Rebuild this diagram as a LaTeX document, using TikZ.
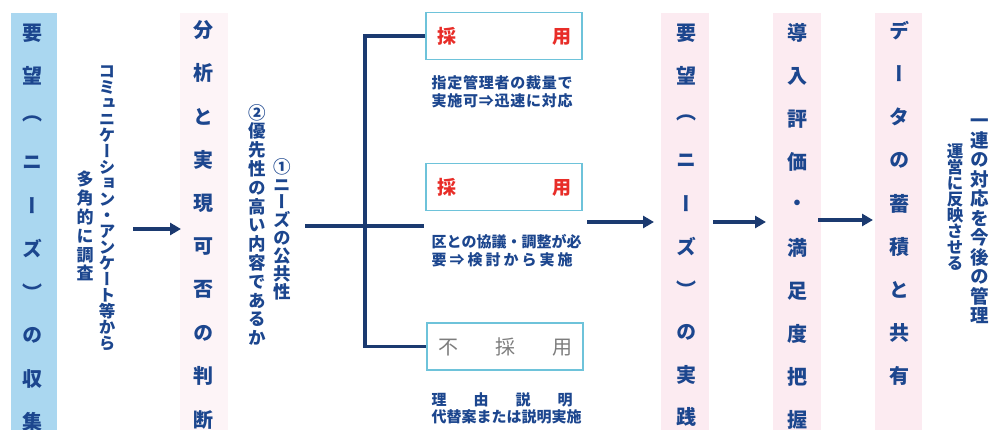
\documentclass[tikz,border=0pt]{standalone}
\usepackage{fontspec}
\usetikzlibrary{arrows.meta}
\newfontfamily\cjkv{Noto Sans CJK JP}[RawFeature=+vert]
\newfontfamily\cjkh{Noto Sans CJK JP}
\definecolor{navy}{RGB}{27,58,112}
\definecolor{txtblue}{RGB}{28,70,142}
\definecolor{skyblue}{RGB}{170,215,240}
\definecolor{pinkbg}{RGB}{252,235,241}
\definecolor{pinkfaint}{RGB}{253,244,247}
\definecolor{boxline}{RGB}{110,195,218}
\definecolor{redtxt}{RGB}{232,45,40}
\definecolor{graytxt}{RGB}{125,125,125}

\ExplSyntaxOn
\NewDocumentCommand\vstack{mm}{
  \vbox{\baselineskip=#1\lineskiplimit=-\maxdimen\lineskip=0pt
    \tl_map_inline:nn{#2}{\hbox_to_wd:nn{1em}{\hss ##1\hss}}}}
\NewDocumentCommand\spread{mm}{
  \hbox_to_wd:nn{#1}{\tl_map_inline:nn{#2}{##1\hfil}\unskip}}
\ExplSyntaxOff

\tikzset{
  bigc/.style={inner sep=0pt, text=txtblue, font=\cjkv\bfseries\fontsize{20}{20}\selectfont},
  vtxt/.style={inner sep=0pt, anchor=north, text=txtblue, font=\cjkv\bfseries},
  desc/.style={inner sep=0pt, text=txtblue, font=\cjkh\bfseries\fontsize{15}{15}\selectfont},
  optbox/.style={draw=boxline, line width=1.2pt, fill=white, minimum width=156pt, minimum height=47pt, inner sep=0pt},
  link/.style={draw=navy, line width=3.3pt, line join=miter},
  arr/.style={draw=navy, line width=3.3pt, -{Triangle[length=11pt,width=12pt]}},
}

\begin{document}
\begin{tikzpicture}[x=1pt,y=-1pt]
\useasboundingbox (0,0) rectangle (994,430);
% background strips
\fill[skyblue] (11,13) rectangle (57,430);
\fill[pinkfaint] (180,13) rectangle (228,430);
\fill[pinkbg] (661,13) rectangle (709,430);
\fill[pinkbg] (773,13) rectangle (821,430);
\fill[pinkbg] (875,13) rectangle (922,430);

% column 1
\foreach \c [count=\i from 0] in {要,望,（,ニ,ー,ズ,）,の,収,集}
  \node[bigc] (ca\i) at (33,{33+43.2*\i}) {\c};
% column 2
\foreach \c [count=\i from 0] in {分,析,と,実,現,可,否,の,判,断}
  \node[bigc] (cb\i) at (203,{30+43.3*\i}) {\c};
% column 3
\foreach \c [count=\i from 0] in {要,望,（,ニ,ー,ズ,）,の,実,践}
  \node[bigc] (cc\i) at (686,{33+42.7*\i}) {\c};
% column 4
\foreach \c [count=\i from 0] in {導,入,評,価,・,満,足,度,把,握}
  \node[bigc] (cd\i) at (797,{33+43*\i}) {\c};
% column 5
\foreach \c [count=\i from 0] in {デ,ー,タ,の,蓄,積,と,共,有}
  \node[bigc] (ce\i) at (899,{31+43.1*\i}) {\c};

% vertical notes
\node[vtxt] (nA) at (107,66) {\fontsize{16.5}{16.5}\selectfont\vstack{16pt}{コミュニケーション・アンケート等から}};
\node[vtxt] (nB) at (85,171) {\fontsize{17}{17}\selectfont\vstack{18.8pt}{多角的に調査}};
\node[vtxt] (nC) at (282,158) {\fontsize{17.5}{17.5}\selectfont\vstack{17.9pt}{①ニーズの公共性}};
\node[vtxt] (nD) at (257,104) {\fontsize{17.5}{17.5}\selectfont\vstack{18.8pt}{②優先性の高い内容であるか}};
\node[vtxt] (nE) at (980,119) {\fontsize{18.5}{18.5}\selectfont\vstack{19.5pt}{一連の対応を今後の管理}};
\node[vtxt] (nF) at (955,144) {\fontsize{16.5}{16.5}\selectfont\vstack{16pt}{運営に反映させる}};

% option boxes
\node[optbox] (b1) at (504,36) {\cjkh\bfseries\fontsize{19}{19}\selectfont\color{redtxt}\spread{134pt}{採用}};
\node[optbox] (b2) at (504,187) {\cjkh\bfseries\fontsize{19}{19}\selectfont\color{redtxt}\spread{134pt}{採用}};
\node[optbox] (b3) at (505,346.5) {\cjkh\fontsize{20}{20}\selectfont\color{graytxt}\spread{134pt}{不採用}};

% descriptions
\node[desc] (d1a) at (502,83) {\spread{141pt}{指定管理者の裁量で}};
\node[desc] (d1b) at (502,101) {\spread{141pt}{実施可⇒迅速に対応}};
\node[desc] (d2a) at (502,242) {\spread{141pt}{区との協議・調整が必}};
\node[desc] (d2b) at (502,260) {\spread{141pt}{要⇒検討から実施}};
\node[desc] (d3a) at (502,400) {\spread{141pt}{理由説明}};
\node[desc] (d3b) at (502,417) {\spread{141pt}{代替案または説明実施}};

% bracket connectors
\coordinate (inS) at (305,226);
\coordinate (mE) at (424,226);
\coordinate (jB) at (365,346.5);
\draw[link] (inS) -- (mE);
\draw[link] (b1.west) -| (jB) -- (b3.west);

% arrows
\coordinate (a1s) at (133,229); \coordinate (a1e) at (181,229);
\coordinate (a2s) at (587,222); \coordinate (a2e) at (654,222);
\coordinate (a3s) at (713,222); \coordinate (a3e) at (766,222);
\coordinate (a4s) at (818,220); \coordinate (a4e) at (873,220);
\draw[arr] (a1s) -- (a1e);
\draw[arr] (a2s) -- (a2e);
\draw[arr] (a3s) -- (a3e);
\draw[arr] (a4s) -- (a4e);
\end{tikzpicture}
\end{document}
